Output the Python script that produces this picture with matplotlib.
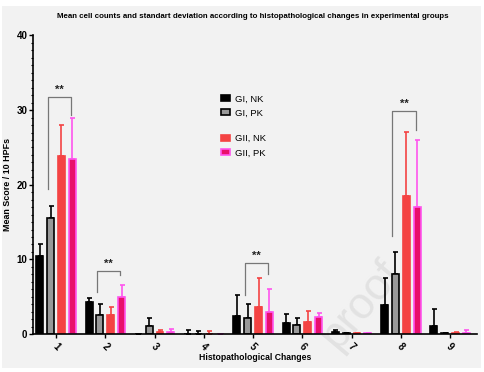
import numpy as np
import matplotlib.pyplot as plt
from matplotlib.patches import Rectangle

plt.rcParams['font.family'] = ['Liberation Sans', 'DejaVu Sans']

groups = ['1', '2', '3', '4', '5', '6', '7', '8', '9']
series = ['GI, NK', 'GI, PK', 'GII, NK', 'GII, PK']

gi_nk = [10.4, 4.3, 0.0, 0.0, 2.4, 1.45, 0.3, 3.9, 1.1]
gi_nk_sd = [1.7, 0.5, 0.0, 0.5, 2.8, 1.2, 0.3, 3.55, 2.2]
gi_pk = [15.6, 2.5, 1.1, 0.0, 2.1, 1.15, 0.1, 8.0, 0.1]
gi_pk_sd = [1.6, 1.5, 1.1, 0.4, 1.9, 0.95, 0.0, 3.0, 0.05]
gii_nk = [23.9, 2.6, 0.3, 0.0, 3.65, 1.55, 0.1, 18.5, 0.2]
gii_nk_sd = [4.15, 1.05, 0.25, 0.35, 3.8, 1.55, 0.0, 8.6, 0.1]
gii_pk = [23.4, 4.9, 0.3, 0.0, 2.9, 2.27, 0.15, 17.0, 0.2]
gii_pk_sd = [5.5, 1.65, 0.4, 0.0, 3.2, 0.55, 0.05, 9.0, 0.3]

# significance brackets: group, top value, left leg bottom, right leg bottom
sig_groups = [1, 2, 5, 8]
sig_top = [31.7, 8.5, 9.5, 29.9]
sig_left = [19.5, 5.7, 5.2, 13.1]
sig_right = [29.3, 7.9, 8.1, 27.3]

fig = plt.figure(figsize=(4.84, 3.72), dpi=100)
fig.patch.set_facecolor('white')
fig.patches.append(Rectangle((0.004, 0.01), 0.99, 0.975, transform=fig.transFigure,
                             facecolor='#f2f2f2', edgecolor='none', zorder=-10))
ax = fig.add_axes([0.068, 0.102, 0.918, 0.8026])
ax.set_facecolor('none')

x = np.arange(1, len(groups) + 1)
w = 0.14
offs = [-0.33, -0.11, 0.11, 0.33]
vals = [gi_nk, gi_pk, gii_nk, gii_pk]
sds = [gi_nk_sd, gi_pk_sd, gii_nk_sd, gii_pk_sd]
faces = ['black', '#999999', '#f44343', '#e8106a']
edges = ['black', 'black', '#f44343', '#ff55ee']
ecols = ['black', 'black', '#f44343', '#ff55ee']

handles = []
for v, s, o, fc, ec, erc, lab in zip(vals, sds, offs, faces, edges, ecols, series):
    v = np.array(v)
    s = np.array(s)
    b = ax.bar(x + o, v, w, color=fc, edgecolor=ec, linewidth=1.2, label=lab, zorder=2)
    ax.errorbar(x + o, v, yerr=[np.zeros_like(s), s], fmt='none', ecolor=erc,
                elinewidth=1.2, capsize=1.8, capthick=1.2, zorder=1)
    handles.append(b)

for g, t, l, r in zip(sig_groups, sig_top, sig_left, sig_right):
    xl = g - 0.17
    xr = g + 0.30
    ax.plot([xl, xl, xr, xr], [l, t, t, r], color='#777777', lw=0.9, zorder=3)
    ax.text((xl + xr) / 2, t + 0.3, '**', ha='center', va='bottom',
            fontsize=8, fontweight='bold', color='#222222')

ax.set_xlim(0.53, 9.55)
ax.set_ylim(0, 40)
ax.spines['top'].set_visible(False)
ax.spines['right'].set_visible(False)
ax.spines['left'].set_linewidth(1.2)
ax.spines['bottom'].set_linewidth(1.2)
ax.set_yticks([0, 10, 20, 30, 40])
ax.set_yticks(np.arange(0, 41, 1), minor=True)
ax.tick_params(axis='y', which='major', length=3, width=1, labelsize=7, pad=1)
ax.tick_params(axis='y', which='minor', length=1.8, width=0.8)
ax.set_xticks(x)
ax.set_xticklabels(groups, rotation=-45, fontsize=7, fontweight='bold', ha='center')
ax.tick_params(axis='x', length=3, width=1, pad=2)
for lb in ax.get_yticklabels():
    lb.set_fontweight('bold')

ax.set_xlabel('Histopathological Changes', fontsize=6.2, fontweight='bold', labelpad=1)
ax.set_ylabel('Mean Score / 10 HPFs', fontsize=6.4, fontweight='bold', labelpad=3)
fig.text(0.523, 0.955, 'Mean cell counts and standart deviation according to histopathological '
         'changes in experimental groups', ha='center', va='center', fontsize=5.7,
         fontweight='bold')

legkw = dict(loc='upper left', frameon=False, fontsize=6.8, handlelength=0.9,
             handleheight=0.6, labelspacing=0.55, handletextpad=0.6, borderaxespad=0)
leg1 = ax.legend(handles[:2], series[:2], bbox_to_anchor=(0.415, 0.815), **legkw)
ax.add_artist(leg1)
ax.legend(handles[2:], series[2:], bbox_to_anchor=(0.415, 0.682), **legkw)

fig.text(0.745, 0.18, 'proof', rotation=50, fontsize=32, color='#e2e2e2',
         ha='center', va='center', zorder=-5)

fig.savefig('out.png', dpi=100, facecolor=fig.get_facecolor())
